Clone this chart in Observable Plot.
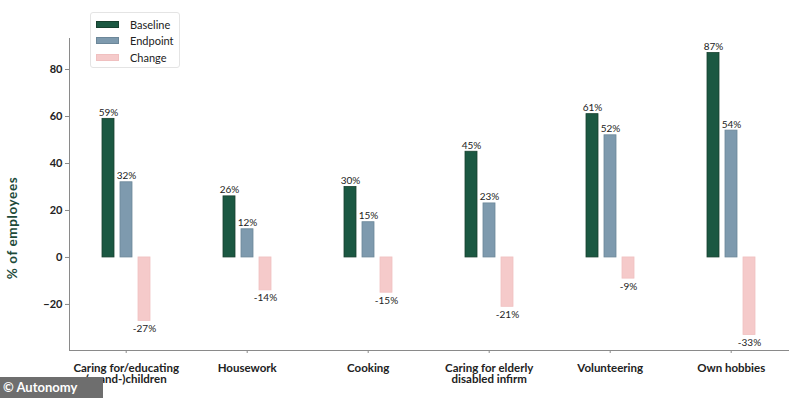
<!DOCTYPE html>
<html><head><meta charset="utf-8">
<script src="https://cdn.jsdelivr.net/npm/d3@7"></script>
<script src="https://cdn.jsdelivr.net/npm/@observablehq/plot@0.6"></script>
<style>
body{margin:0;background:#fff;font-family:Lato,"Open Sans",sans-serif;}
#wrap{position:relative;width:789px;height:398px;overflow:hidden;background:#fff}
#ylab{position:absolute;left:12px;top:228px;transform:translate(-50%,-50%) rotate(-90deg);white-space:nowrap;font-weight:bold;font-size:13.5px;color:#1e4b3a;letter-spacing:0.6px}
#legend{position:absolute;left:90px;top:12px;width:88px;height:54px;border:1px solid #e4e4e4;border-radius:3px;background:#fff;font-size:11px;color:#222}
.row{position:absolute;left:5px;height:14px;display:flex;align-items:center}
.sw{width:23px;height:7px;margin-right:11px;box-sizing:border-box}
#credit{position:absolute;left:0;top:377px;width:103px;height:21px;background:#6e6e6e;color:#fff;font-weight:bold;font-size:13px;line-height:21px;padding-left:3px;box-sizing:border-box}
</style></head><body><div id="wrap"></div>
<script>
const categories = ["Caring for/educating\n(grand-)children","Housework","Cooking","Caring for elderly\ndisabled infirm","Volunteering","Own hobbies"];
const series = ["Baseline","Endpoint","Change"];
const baseline = [59,26,30,45,61,87];
const endpoint = [32,12,15,23,52,54];
const change = [-27,-14,-15,-21,-9,-33];
const yTicks = [-20,0,20,40,60,80];
const colors = ["#1b5842","#7e9aae","#f5caca"];
const strokes = ["#17402f","#6c8799","#f0c0c0"];

const data = categories.flatMap((c,i)=>[
  {category:c, series:series[0], value:baseline[i]},
  {category:c, series:series[1], value:endpoint[i]},
  {category:c, series:series[2], value:change[i]}
]);

const font = "Lato, 'Open Sans', sans-serif";
const plot = Plot.plot({
  width:789, height:398,
  marginLeft:67, marginRight:-8, marginTop:38, marginBottom:48,
  style:{fontFamily:font, fontSize:"11px", color:"#222", background:"transparent", overflow:"hidden"},
  fx:{domain:categories, padding:0, axis:null},
  x:{domain:series, paddingInner:0.34, paddingOuter:2.0, align:0.447, axis:null},
  y:{domain:[-39.6,93.2], axis:null},
  color:{domain:series, range:colors},
  marks:[
    Plot.barY(data,{fx:"category", x:"series", y:"value", fill:"series", stroke:d=>strokes[series.indexOf(d.series)], strokeWidth:0.8}),
    Plot.text(data.filter(d=>d.value>=0),{fx:"category", x:"series", y:"value", text:d=>d.value+"%", lineAnchor:"bottom", dy:-3, fontSize:10, fill:"#222"}),
    Plot.text(data.filter(d=>d.value<0),{fx:"category", x:"series", y:"value", text:d=>d.value+"%", lineAnchor:"top", dy:4, fontSize:10, fill:"#222"}),
    Plot.frame({anchor:"bottom", stroke:"#8a8a8a", strokeOpacity:1}),
    Plot.frame({anchor:"left", stroke:"#8a8a8a", strokeOpacity:1, facetAnchor:"left"}),
    Plot.axisY({ticks:yTicks, tickSize:4, tickPadding:3, label:null, fontWeight:"bold", fontSize:11, stroke:"#8a8a8a"}),
    Plot.axisFx({anchor:"bottom", tickSize:3, tickPadding:10, label:null, fontWeight:"bold", fontSize:11.5, stroke:"#8a8a8a", dx:-3.8})
  ]
});
const wrap = document.getElementById("wrap");
wrap.appendChild(plot);
const yl = document.createElement("div"); yl.id="ylab"; yl.textContent="% of employees"; wrap.appendChild(yl);
const lg = document.createElement("div"); lg.id="legend";
series.forEach((s,i)=>{
  const r=document.createElement("div"); r.className="row"; r.style.top=(4+i*16.5)+"px";
  const sw=document.createElement("div"); sw.className="sw"; sw.style.background=colors[i]; sw.style.border="1px solid "+strokes[i];
  const t=document.createElement("span"); t.textContent=s;
  r.appendChild(sw); r.appendChild(t); lg.appendChild(r);
});
wrap.appendChild(lg);
const cr=document.createElement("div"); cr.id="credit"; cr.textContent="© Autonomy"; wrap.appendChild(cr);
</script></body></html>
